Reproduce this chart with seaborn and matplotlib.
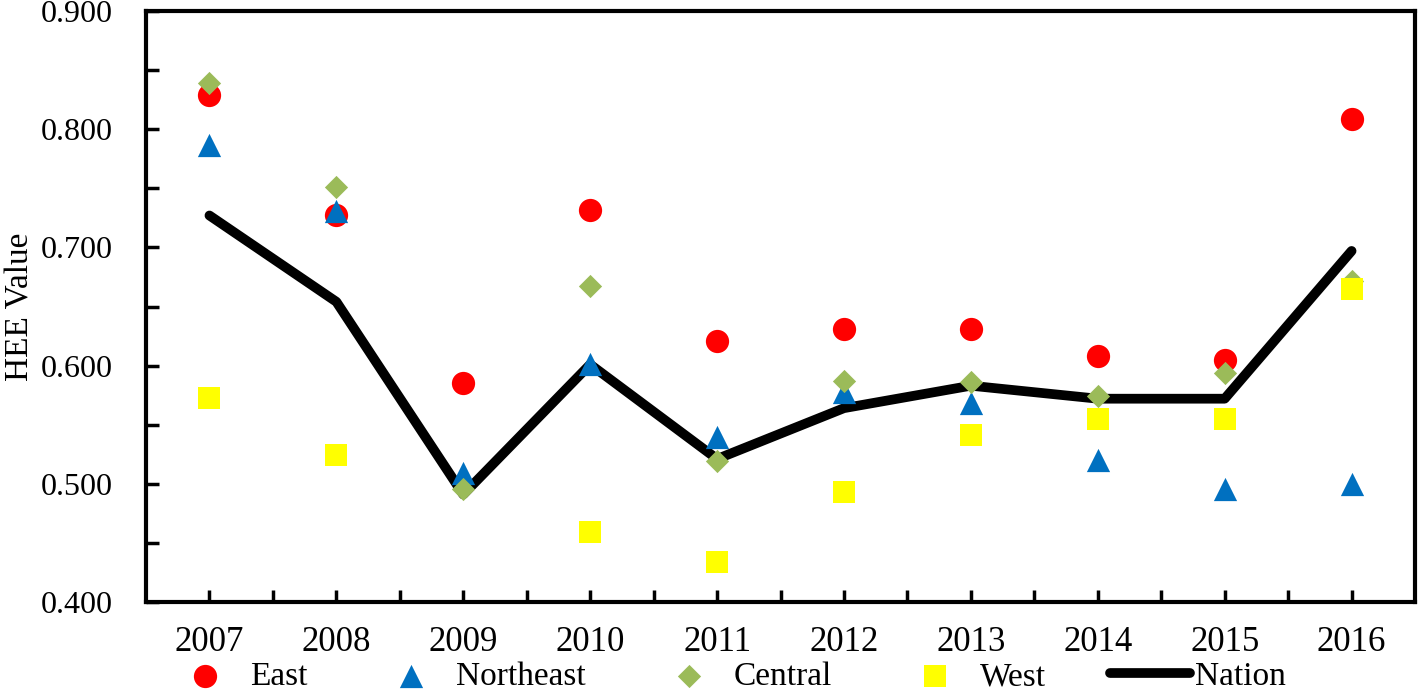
import numpy as np
import pandas as pd
import matplotlib.pyplot as plt
import seaborn as sns
from matplotlib.ticker import MultipleLocator, FixedLocator

years = [2007, 2008, 2009, 2010, 2011, 2012, 2013, 2014, 2015, 2016]
east = [0.829, 0.727, 0.585, 0.732, 0.621, 0.631, 0.631, 0.608, 0.605, 0.809]
northeast = [0.787, 0.731, 0.509, 0.601, 0.540, 0.578, 0.568, 0.520, 0.496, 0.500]
central = [0.839, 0.751, 0.496, 0.667, 0.519, 0.587, 0.586, 0.574, 0.594, 0.672]
# 2009 West point is not visible in the source chart
west = [0.573, 0.524, np.nan, 0.459, 0.434, 0.493, 0.541, 0.555, 0.555, 0.665]
nation = [0.727, 0.654, 0.491, 0.601, 0.521, 0.564, 0.583, 0.572, 0.572, 0.697]

df = pd.DataFrame({"Year": years, "East": east, "Northeast": northeast,
                   "Central": central, "West": west, "Nation": nation})

sns.set_style("white")
plt.rcParams['font.family'] = ['Liberation Serif', 'DejaVu Serif']
plt.rcParams['text.color'] = 'black'
plt.rcParams['xtick.color'] = 'black'
plt.rcParams['ytick.color'] = 'black'
plt.rcParams['axes.labelcolor'] = 'black'

fig, ax = plt.subplots(figsize=(14.19, 6.97), dpi=100)
fig.subplots_adjust(left=0.1029, right=0.9972, top=0.9842, bottom=0.1363)

# regional scatter series
series = [
    ("East", "#FF0000", "o", 280),
    ("Northeast", "#0070C0", "^", 280),
    ("Central", "#9BBB59", "D", 140),
    ("West", "#FFFF00", "s", 270),
]
for name, color, marker, size in series:
    sns.scatterplot(data=df, x="Year", y=name, color=color, marker=marker,
                    s=size, linewidth=0, ax=ax, label=name, zorder=3)

sns.lineplot(data=df, x="Year", y="Nation", color="black", linewidth=7,
             ax=ax, label="Nation", zorder=2, solid_capstyle="round",
             solid_joinstyle="round")

ax.set_xlim(2006.5, 2016.5)
ax.set_ylim(0.4, 0.9)
ax.xaxis.set_major_locator(FixedLocator(years))
ax.xaxis.set_minor_locator(FixedLocator([y + 0.5 for y in years[:-1]]))
ax.yaxis.set_major_locator(MultipleLocator(0.1))
ax.yaxis.set_minor_locator(MultipleLocator(0.05))
ax.yaxis.set_major_formatter(plt.FormatStrFormatter("%.3f"))
ax.set_xticklabels([str(y) for y in years])

ax.tick_params(axis="x", which="both", direction="in", length=9, width=2.5,
               labelsize=25, pad=17, bottom=True)
ax.tick_params(axis="y", which="both", direction="in", length=9, width=2.5,
               labelsize=23, left=True, pad=24)
for sp in ax.spines.values():
    sp.set_linewidth(3)
    sp.set_color("black")

ax.set_xlabel("")
ax.set_ylabel("HEE Value", fontsize=24, labelpad=4)

handles, labels = ax.get_legend_handles_labels()
ax.legend_.remove()
fig.legend(handles, labels, loc="lower center", bbox_to_anchor=(0.511, -0.036),
           ncol=5, frameon=False, fontsize=24, handlelength=2.4,
           handletextpad=0.15, columnspacing=1.9)

plt.savefig("out.png", dpi=100)
